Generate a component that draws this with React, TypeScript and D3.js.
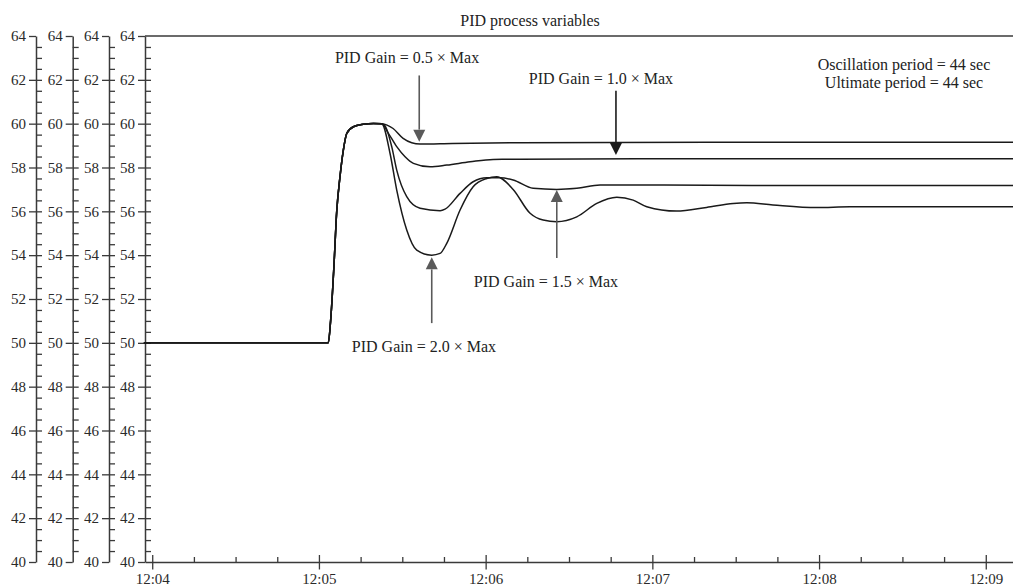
import React, { useRef, useEffect } from 'react';
import * as d3 from 'd3';

// seconds after 12:04:00, and process value
const riseTime = [-3, 63.35, 64.2, 65.4, 66.4, 67.6, 68.8, 70.0, 72.4, 76.0, 79.6, 82.6];
const riseValue = [50, 50, 51.0, 53.5, 56.0, 57.6, 58.8, 59.55, 59.86, 59.97, 60.01, 60.0];

const gain05Time = [86.7, 90.3, 93.4, 96.4, 108, 132, 200, 310];
const gain05Value = [59.78, 59.33, 59.13, 59.07, 59.1, 59.13, 59.15, 59.15];

const gain10Time = [85.0, 88.0, 91.0, 94.0, 100, 106, 114.4, 122.7, 132.4, 200, 310];
const gain10Value = [59.56, 58.95, 58.49, 58.19, 58.03, 58.11, 58.26, 58.37, 58.38, 58.4, 58.4];

const gain15Time = [83.8, 86.2, 88.0, 91.6, 96.4, 103.6, 105.4, 110.8, 115.5, 120.4, 125.1, 129.9, 137.1, 145.6, 152.8, 161.2, 180, 220, 310];
const gain15Value = [59.9, 58.95, 57.88, 56.67, 56.14, 56.03, 56.1, 56.82, 57.35, 57.53, 57.53, 57.43, 57.05, 57.0, 57.05, 57.2, 57.2, 57.18, 57.18];

const gain20Time = [85.6, 88.0, 91.6, 95.2, 100.6, 103.6, 106.0, 110.8, 115.5, 120.4, 124.0, 129.9, 136.0, 140.7, 145.6, 152.8, 160.0, 167.2, 173.1, 178.0, 188.7, 199.5, 209.1, 214, 223.4, 239.1, 251.1, 310];
const gain20Value = [58.64, 56.97, 55.15, 54.23, 54.0, 54.08, 54.54, 56.06, 57.12, 57.5, 57.58, 57.0, 55.91, 55.6, 55.53, 55.75, 56.36, 56.64, 56.51, 56.21, 56.01, 56.18, 56.36, 56.39, 56.29, 56.17, 56.21, 56.21];

const yTickLabels = [40, 42, 44, 46, 48, 50, 52, 54, 56, 58, 60, 62, 64];

// annotation arrows: label, arrow time, from value, to value, label time, label value
const arrowLabels = ['PID Gain = 0.5 × Max', 'PID Gain = 1.0 × Max', 'PID Gain = 1.5 × Max', 'PID Gain = 2.0 × Max'];
const arrowTime = [96.1, 166.9, 145.6, 100.6];
const arrowFrom = [62.2, 61.5, 53.87, 50.9];
const arrowTo = [59.18, 58.57, 56.97, 53.9];
const labelTime = [91.7, 161.5, 141.7, 97.8];
const labelValue = [62.75, 61.8, 52.55, 49.6];
const arrowColor = ['#5a5a5a', '#1a1a1a', '#5a5a5a', '#5a5a5a'];

const title = 'PID process variables';
const notes = ['Oscillation period = 44 sec', 'Ultimate period = 44 sec'];

const base = new Date(2020, 0, 1, 12, 4, 0).getTime();
const at = (s: number) => new Date(base + s * 1000);

function App() {
  const ref = useRef<SVGSVGElement>(null);

  useEffect(() => {
    if (!ref.current) return;
    const svg = d3.select(ref.current);
    svg.selectAll('*').remove();

    const width = 1013;
    const height = 588;
    const left = 145;
    const top = 36;
    const bottom = 562;
    const font = '"Liberation Serif", "Times New Roman", serif';

    const x = d3.scaleTime().domain([at(-2.6), at(309.8)]).range([left, width]);
    const y = d3.scaleLinear().domain([40, 64]).range([bottom, top]);

    svg.attr('width', width).attr('height', height);

    // four stacked y axes
    const axisX = [36, 72.7, 109, 145];
    const minor = d3.range(40.5, 64, 0.5);
    axisX.forEach((ax) => {
      const g = svg.append('g').attr('transform', `translate(${ax},0)`);
      g.call(d3.axisLeft(y).tickValues(yTickLabels).tickSize(7).tickSizeOuter(0).tickPadding(3));
      const r = svg.append('g').attr('transform', `translate(${ax},0)`);
      r.call(d3.axisRight(y).tickValues(minor).tickSize(6).tickFormat(() => ''));
      r.select('.domain').remove();
      [g, r].forEach((s) => {
        s.selectAll('line').attr('stroke', '#3a3a3a').attr('stroke-width', 1.3);
        s.select('.domain').attr('stroke', '#3a3a3a').attr('stroke-width', 1.5);
        s.selectAll('text').attr('font-family', font).attr('font-size', 15).attr('fill', '#2a2a2a');
      });
    });

    // top border
    svg.append('line')
      .attr('x1', left).attr('x2', width)
      .attr('y1', y(64)).attr('y2', y(64))
      .attr('stroke', '#3a3a3a').attr('stroke-width', 1.5);

    // x axis
    const gx = svg.append('g').attr('transform', `translate(0,${bottom})`);
    gx.call(
      d3.axisBottom(x)
        .ticks(d3.timeMinute.every(1))
        .tickFormat((d) => d3.timeFormat('%H:%M')(d as Date))
        .tickSize(7.5)
        .tickSizeOuter(0),
    );
    gx.selectAll('.tick line').attr('y1', -7);
    gx.selectAll('text').attr('y', 21.5).attr('dy', 0)
      .attr('font-family', font).attr('font-size', 15).attr('fill', '#2a2a2a');
    gx.selectAll('line').attr('stroke', '#3a3a3a').attr('stroke-width', 1.3);
    gx.select('.domain').attr('stroke', '#3a3a3a').attr('stroke-width', 1.5);

    const minorTimes = d3.timeSecond.every(15)!.range(at(-2.6), at(309.8)).filter((d) => d.getSeconds() !== 0);
    const gm = svg.append('g').attr('transform', `translate(0,${bottom})`);
    gm.call(d3.axisTop(x).tickValues(minorTimes).tickSize(5).tickFormat(() => ''));
    gm.select('.domain').remove();
    gm.selectAll('line').attr('stroke', '#3a3a3a').attr('stroke-width', 1.3);

    // series
    const series = [
      [gain05Time, gain05Value],
      [gain10Time, gain10Value],
      [gain15Time, gain15Value],
      [gain20Time, gain20Value],
    ].map(([t, v]) =>
      riseTime.concat(t).map((s, i) => ({ t: at(s), v: riseValue.concat(v)[i] })),
    );

    const line = d3.line<{ t: Date; v: number }>()
      .x((d) => x(d.t))
      .y((d) => y(d.v))
      .curve(d3.curveMonotoneX);

    svg.append('g')
      .selectAll('path')
      .data(series)
      .join('path')
      .attr('d', line)
      .attr('fill', 'none')
      .attr('stroke', '#1a1a1a')
      .attr('stroke-width', 1.5);

    // arrows
    arrowLabels.forEach((label, i) => {
      const ax = x(at(arrowTime[i]));
      const y0 = y(arrowFrom[i]);
      const y1 = y(arrowTo[i]);
      const dir = y1 > y0 ? 1 : -1;
      const head = 12;
      svg.append('line')
        .attr('x1', ax).attr('x2', ax)
        .attr('y1', y0).attr('y2', y1 - dir * head)
        .attr('stroke', arrowColor[i]).attr('stroke-width', 1.6);
      svg.append('path')
        .attr('d', `M${ax - 6},${y1 - dir * head}L${ax + 6},${y1 - dir * head}L${ax},${y1}Z`)
        .attr('fill', arrowColor[i]);
      svg.append('text')
        .attr('x', x(at(labelTime[i])))
        .attr('y', y(labelValue[i]))
        .attr('text-anchor', 'middle')
        .attr('font-family', font)
        .attr('font-size', 16)
        .attr('fill', '#222')
        .text(label);
    });

    svg.append('text')
      .attr('x', 530).attr('y', 26)
      .attr('text-anchor', 'middle')
      .attr('font-family', font).attr('font-size', 16).attr('fill', '#222')
      .text(title);

    notes.forEach((n, i) => {
      svg.append('text')
        .attr('x', 904).attr('y', 70 + i * 18)
        .attr('text-anchor', 'middle')
        .attr('font-family', font).attr('font-size', 16).attr('fill', '#222')
        .text(n);
    });
  }, []);

  return <svg ref={ref} style={{ position: 'absolute', left: 0, top: 0 }} />;
}

export default App;
